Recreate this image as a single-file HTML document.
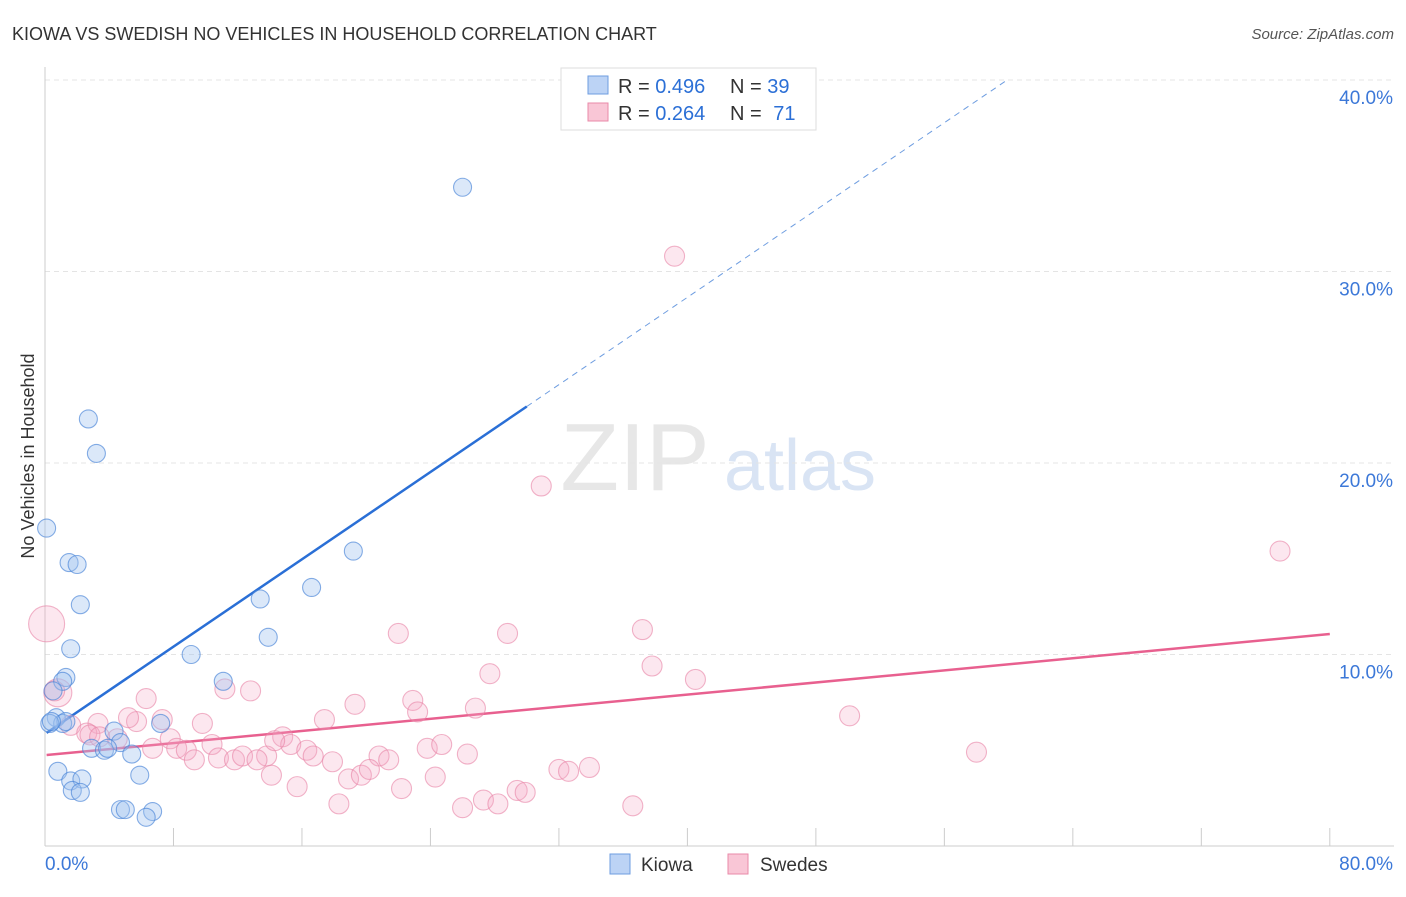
<!DOCTYPE html>
<html><head><meta charset="utf-8"><style>
body{margin:0;background:#fff;font-family:"Liberation Sans",sans-serif}
svg text{font-family:"Liberation Sans",sans-serif}
</style></head><body>
<svg id="c" width="1406" height="892">
<text x="12" y="40" font-size="18" fill="#333">KIOWA VS SWEDISH NO VEHICLES IN HOUSEHOLD CORRELATION CHART</text>
<text x="1394" y="39" font-size="15" fill="#555" text-anchor="end" font-style="italic">Source: ZipAtlas.com</text>
<text x="34" y="456" font-size="18" fill="#333" text-anchor="middle" transform="rotate(-90 34 456)">No Vehicles in Household</text>
<g><text x="635" y="490" font-size="96" fill="#ddd" text-anchor="middle" font-family="Liberation Serif" opacity="0.7">ZIP</text><text x="800" y="490" font-size="72" fill="#c9d9f0" text-anchor="middle" opacity="0.7">atlas</text></g>
<g id="grid"></g><g id="axes"></g><g id="lines"></g><g id="pts"></g>
<g>
<rect x="561" y="68" width="255" height="62" fill="#fff" stroke="#ddd"/>
<rect x="588" y="76" width="20" height="18" fill="#bcd3f5" stroke="#6e9de0"/>
<text x="618" y="93" font-size="20" fill="#333">R = <tspan fill="#2b6fd6">0.496</tspan></text>
<text x="730" y="93" font-size="20" fill="#333">N = <tspan fill="#2b6fd6">39</tspan></text>
<rect x="588" y="103" width="20" height="18" fill="#f9c6d6" stroke="#e98aa8"/>
<text x="618" y="120" font-size="20" fill="#333">R = <tspan fill="#2b6fd6">0.264</tspan></text>
<text x="730" y="120" font-size="20" fill="#333">N = <tspan fill="#2b6fd6" dx="6">71</tspan></text>
</g>
<g>
<rect x="610" y="854" width="20" height="20" fill="#bcd3f5" stroke="#6e9de0"/><text x="641" y="871" font-size="19" fill="#333">Kiowa</text>
<rect x="728" y="854" width="20" height="20" fill="#f9c6d6" stroke="#e98aa8"/><text x="760" y="871" font-size="19" fill="#333">Swedes</text>
</g>
</svg>
<script>
const yTicks=[10,20,30,40];
const yTickLabels=["10.0%","20.0%","30.0%","40.0%"];
const xTickLabels=["0.0%","80.0%"];
const kiowaX=[26.0,2.7,3.2,0.1,1.5,2.0,2.2,19.2,16.6,13.4,13.9,1.6,9.1,1.3,1.1,11.1,0.5,0.7,1.1,1.3,0.3,4.3,4.7,2.9,3.7,3.9,5.4,0.8,1.6,2.3,5.9,1.7,2.2,4.7,5.0,6.7,6.3,7.2,0.4];
const kiowaY=[34.4,22.3,20.5,16.6,14.8,14.7,12.6,15.4,13.5,12.9,10.9,10.3,10.0,8.8,8.6,8.6,8.1,6.7,6.4,6.5,6.4,6.0,5.4,5.1,5.0,5.1,4.8,3.9,3.4,3.5,3.7,2.9,2.8,1.9,1.9,1.8,1.5,6.4,6.5];
const swedeX=[39.2,30.9,76.9,0.1,0.8,22.0,28.8,37.2,37.8,27.7,40.5,50.1,58.0,11.2,12.8,6.3,19.3,22.9,23.2,26.8,3.3,5.7,5.2,7.3,9.8,17.4,1.6,2.6,2.8,4.5,6.7,7.8,8.2,8.8,10.4,9.3,10.8,11.8,12.3,13.8,13.2,14.8,15.3,16.3,16.7,17.9,20.8,21.4,23.8,24.7,26.3,14.1,15.7,18.9,19.7,20.2,22.2,24.3,18.3,26.0,27.3,28.2,29.4,29.9,32.0,32.6,33.9,36.6,14.3,0.6,3.4];
const swedeY=[30.8,18.8,15.4,11.6,8.0,11.1,11.1,11.3,9.4,9.0,8.7,6.8,4.9,8.2,8.1,7.7,7.4,7.6,7.0,7.2,6.4,6.5,6.7,6.6,6.4,6.6,6.3,5.9,5.8,5.6,5.1,5.6,5.1,5.0,5.3,4.5,4.6,4.5,4.7,4.7,4.5,5.7,5.3,5.0,4.7,4.4,4.7,4.5,5.1,5.3,4.8,3.7,3.1,3.5,3.7,4.0,3.0,3.6,2.2,2.0,2.4,2.2,2.9,2.8,4.0,3.9,4.1,2.1,5.5,8.1,5.7];
const swedeR=[10,10,10,18,14,10,10,10,10,10,10,10,10,10,10,10,10,10,10,10,10,10,10,10,10,10,10,10,10,10,10,10,10,10,10,10,10,10,10,10,10,10,10,10,10,10,10,10,10,10,10,10,10,10,10,10,10,10,10,10,10,10,10,10,10,10,10,10,10,10,10];
const kiowaFit=[5.85,0.57];
const swedeFit=[4.75,0.079];
const NS="http://www.w3.org/2000/svg";
const X=v=>45+v*16.06, Y=v=>846-v*19.15;
function mk(tag,attrs,parent){const e=document.createElementNS(NS,tag);for(const k in attrs)e.setAttribute(k,attrs[k]);document.getElementById(parent).appendChild(e);return e;}
yTicks.forEach((t,i)=>{
 const g=mk('line',{x1:45,x2:1394,y1:Y(t),y2:Y(t),stroke:'#e4e4e4','stroke-dasharray':'5,4'},'grid');
 
 
 const l=mk('text',{x:1393,y:Y(t)+24,'font-size':19,fill:'#3c78d8','text-anchor':'end'},'axes');l.textContent=yTickLabels[i];
 
 
});
let ax=mk('line',{x1:45,x2:45,y1:67,y2:846,stroke:'#ccc'},'axes');


ax=mk('line',{x1:45,x2:1394,y1:846,y2:846,stroke:'#ccc'},'axes');


for(let i=1;i<=10;i++){const t=mk('line',{x1:X(i*8),x2:X(i*8),y1:828,y2:846,stroke:'#ccc'},'axes');
 
 }
[[0,'start',45],[1,'end',1393]].forEach(([i,a,x])=>{const t=mk('text',{x:x,y:870,'font-size':19,fill:'#3c78d8','text-anchor':a},'axes');t.textContent=xTickLabels[i];
 
 });
swedeX.forEach((x,i)=>{const c=mk('circle',{cx:X(x),cy:Y(swedeY[i]),r:swedeR[i],fill:'rgba(246,170,196,0.28)',stroke:'rgba(232,130,165,0.6)','stroke-width':1.1},'pts');
 
 });
kiowaX.forEach((x,i)=>{const c=mk('circle',{cx:X(x),cy:Y(kiowaY[i]),r:9,fill:'rgba(160,195,240,0.38)',stroke:'rgba(70,130,215,0.65)','stroke-width':1.1},'pts');
 
 });
let ln=mk('line',{x1:X(0.1),y1:Y(kiowaFit[0]+kiowaFit[1]*0.1),x2:X(30),y2:Y(kiowaFit[0]+kiowaFit[1]*30),stroke:'#2a6fd6','stroke-width':2.5},'lines');


const xe=(40-kiowaFit[0])/kiowaFit[1];
ln=mk('line',{x1:X(30),y1:Y(kiowaFit[0]+kiowaFit[1]*30),x2:X(xe),y2:Y(40),stroke:'#6e9de0','stroke-width':1,'stroke-dasharray':'6,5'},'lines');


ln=mk('line',{x1:X(0.1),y1:Y(swedeFit[0]),x2:X(80),y2:Y(swedeFit[0]+swedeFit[1]*80),stroke:'#e8608f','stroke-width':2.5},'lines');


</script>
</body></html>
